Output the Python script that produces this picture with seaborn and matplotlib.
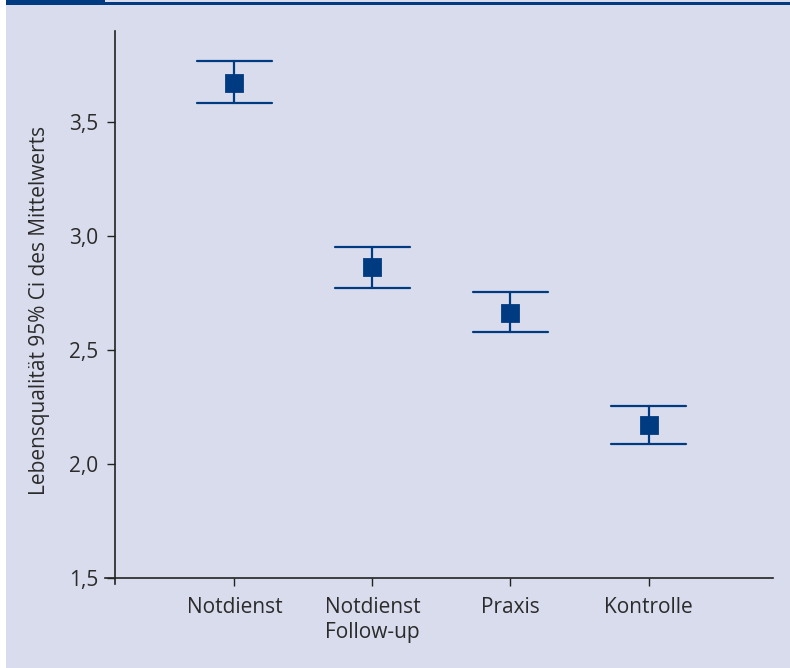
import matplotlib
matplotlib.use("Agg")
import matplotlib.pyplot as plt
from matplotlib.patches import Rectangle
from matplotlib.ticker import FuncFormatter
import seaborn as sns
import pandas as pd

# values
groups = ["Notdienst", "Notdienst\nFollow-up", "Praxis", "Kontrolle"]
means = [3.67, 2.865, 2.662, 2.171]
ci_lower = [3.583, 2.772, 2.579, 2.088]
ci_upper = [3.768, 2.952, 2.754, 2.254]

bg = "#d8dcec"
navy = "#003a80"
text_col = "#2b2b2b"

# long table: lower / mean / upper per group; the median is the mean,
# min/max give the confidence interval
rows = []
for g, lo, m, hi in zip(groups, ci_lower, means, ci_upper):
    for v in (lo, m, hi):
        rows.append({"group": g, "value": v})
df = pd.DataFrame(rows)

sns.set_theme(style="white")
plt.rcParams["font.family"] = ["Open Sans", "DejaVu Sans"]

fig = plt.figure(figsize=(7.9, 6.68), dpi=100, facecolor="white")
fig.patches.append(Rectangle((6 / 790, 0), 1, 1, transform=fig.transFigure,
                             facecolor=bg, edgecolor="none", zorder=-10))
# header rule
fig.patches.append(Rectangle((6 / 790, 1 - 5 / 668), 1, 3 / 668, transform=fig.transFigure,
                             facecolor=navy, edgecolor="none", zorder=-5))
fig.patches.append(Rectangle((6 / 790, 1 - 5 / 668), 99 / 790, 5 / 668, transform=fig.transFigure,
                             facecolor=navy, edgecolor="none", zorder=-5))

ax = fig.add_axes([105 / 790, 1 - 578 / 668, (773 - 105) / 790, (578 - 31) / 668])
ax.set_facecolor("none")

sns.pointplot(data=df, x="group", y="value", estimator="median",
              errorbar=lambda x: (x.min(), x.max()),
              linestyle="none", marker="s", markersize=11, color=navy,
              capsize=0.55, err_kws={"linewidth": 1.6}, ax=ax)

ax.set_xlim(-0.938, 3.902)
ax.set_ylim(1.5, 3.9)
ax.set_yticks([1.5, 2.0, 2.5, 3.0, 3.5])
ax.yaxis.set_major_formatter(FuncFormatter(lambda v, p: f"{v:.1f}".replace(".", ",")))

for s in ["top", "right"]:
    ax.spines[s].set_visible(False)
ax.spines["left"].set_position(("data", -0.866))
ax.spines["left"].set_bounds(1.475, 3.9)
for s in ["left", "bottom"]:
    ax.spines[s].set_color("#222222")
    ax.spines[s].set_linewidth(1.2)

ax.tick_params(axis="both", which="both", direction="out", length=6, width=1,
               color="#222222", labelsize=15, labelcolor=text_col, pad=6,
               left=True, bottom=True)
ax.tick_params(axis="x", pad=8)
ax.set_xlabel("")
ax.set_ylabel("Lebensqualität 95% Ci des Mittelwerts", fontsize=15, color=text_col)
ax.yaxis.set_label_coords(-0.083, 0.49)

fig.savefig("out.png", dpi=100, facecolor=fig.get_facecolor())
